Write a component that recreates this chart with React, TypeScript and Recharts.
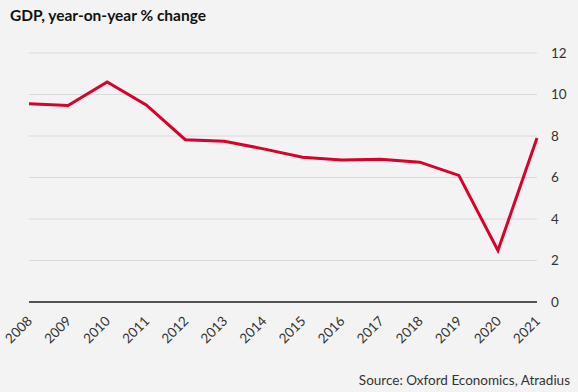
import { LineChart, Line, XAxis, YAxis, CartesianGrid } from 'recharts';

const years = ['2008', '2009', '2010', '2011', '2012', '2013', '2014', '2015', '2016', '2017', '2018', '2019', '2020', '2021'];
const gdpChange = [9.55, 9.47, 10.6, 9.5, 7.82, 7.75, 7.38, 6.98, 6.84, 6.88, 6.74, 6.1, 2.48, 7.9];
const yTicks = [0, 2, 4, 6, 8, 10, 12];

const data = years.map((year, i) => ({ year, gdp: gdpChange[i] }));

const FONT = 'Lato, "Open Sans", sans-serif';

function YearTick(props: any) {
  const { x, y, payload } = props;
  return (
    <text
      x={x + 4}
      y={y + 12}
      transform={`rotate(-45, ${x + 4}, ${y + 12})`}
      textAnchor="end"
      fontSize={13.5}
      fontFamily={FONT}
      fill="#333"
    >
      {payload.value}
    </text>
  );
}

export default function App() {
  return (
    <div style={{ position: 'fixed', top: 0, left: 0, width: 578, height: 392, background: '#f3f3f3', overflow: 'hidden' }}>
      <div style={{ position: 'absolute', left: 10, top: 6, fontFamily: FONT, fontWeight: 700, fontSize: 15.5, color: '#111' }}>
        GDP, year-on-year % change
      </div>
      <LineChart width={578} height={392} data={data} margin={{ top: 53, right: 0, left: 29, bottom: 0 }}>
        <CartesianGrid vertical={false} stroke="#d9d9d9" />
        <XAxis
          dataKey="year"
          height={90}
          interval={0}
          tickLine={false}
          axisLine={{ stroke: '#222', strokeWidth: 1.5 }}
          tick={<YearTick />}
        />
        <YAxis
          orientation="right"
          width={41}
          domain={[0, 12]}
          ticks={yTicks}
          axisLine={false}
          tickLine={false}
          tickSize={0}
          tickMargin={14}
          tick={{ fontSize: 13.5, fill: '#333', fontFamily: FONT, textAnchor: 'start' }}
        />
        <Line
          type="linear"
          dataKey="gdp"
          stroke="#d9002b"
          strokeWidth={3}
          dot={false}
          isAnimationActive={false}
        />
      </LineChart>
      <div style={{ position: 'absolute', right: 8, top: 372, fontFamily: FONT, fontSize: 13.5, color: '#333' }}>
        Source: Oxford Economics, Atradius
      </div>
    </div>
  );
}
